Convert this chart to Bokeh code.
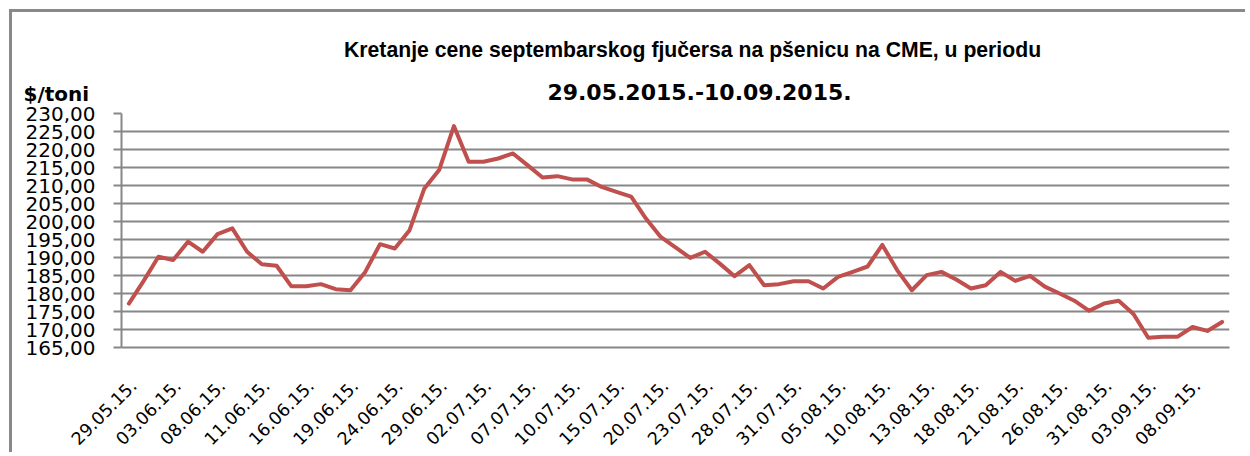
from bokeh.plotting import figure
from bokeh.models import Range1d, FixedTicker, Label
from bokeh.embed import file_html
from bokeh.resources import INLINE
from math import pi

dates = [
    "29.05.15.",
    "01.06.15.", "02.06.15.", "03.06.15.", "04.06.15.", "05.06.15.", "08.06.15.", "09.06.15.",
    "10.06.15.", "11.06.15.", "12.06.15.", "15.06.15.", "16.06.15.", "17.06.15.", "18.06.15.",
    "19.06.15.", "22.06.15.", "23.06.15.", "24.06.15.", "25.06.15.", "26.06.15.", "29.06.15.",
    "30.06.15.",
    "01.07.15.", "02.07.15.", "03.07.15.", "06.07.15.", "07.07.15.", "08.07.15.", "09.07.15.",
    "10.07.15.", "13.07.15.", "14.07.15.", "15.07.15.", "16.07.15.", "17.07.15.", "20.07.15.",
    "21.07.15.", "22.07.15.", "23.07.15.", "24.07.15.", "27.07.15.", "28.07.15.", "29.07.15.",
    "30.07.15.", "31.07.15.",
    "03.08.15.", "04.08.15.", "05.08.15.", "06.08.15.", "07.08.15.", "10.08.15.", "11.08.15.",
    "12.08.15.", "13.08.15.", "14.08.15.", "17.08.15.", "18.08.15.", "19.08.15.", "20.08.15.",
    "21.08.15.", "24.08.15.", "25.08.15.", "26.08.15.", "27.08.15.", "28.08.15.", "31.08.15.",
    "01.09.15.", "02.09.15.", "03.09.15.", "04.09.15.", "07.09.15.", "08.09.15.", "09.09.15.",
    "10.09.15.",
]

prices = [
    177.2, 183.5, 190.2, 189.3, 194.4, 191.6, 196.5, 198.1, 191.6, 188.1,
    187.7, 182.0, 182.0, 182.6, 181.2, 180.9, 186.0, 193.7, 192.5, 197.6,
    209.2, 214.3, 226.5, 216.6, 216.6, 217.5, 218.9, 215.6, 212.2, 212.6,
    211.7, 211.7, 209.6, 208.2, 206.9, 200.8, 195.7, 192.8, 189.9, 191.6,
    188.3, 184.8, 187.9, 182.3, 182.6, 183.4, 183.4, 181.4, 184.6, 186.0,
    187.5, 193.5, 186.5, 180.9, 185.1, 186.0, 183.9, 181.4, 182.3, 186.0,
    183.5, 184.9, 181.9, 180.0, 178.0, 175.2, 177.2, 178.0, 174.3, 167.7,
    168.0, 168.0, 170.7, 169.6, 172.1,
]

y_ticks = [165, 170, 175, 180, 185, 190, 195, 200, 205, 210, 215, 220, 225, 230]
label_step = 3

title_line1 = "Kretanje cene septembarskog fjučersa na  pšenicu na CME, u periodu"
title_line2 = "29.05.2015.-10.09.2015."
y_unit = "$/toni"

GRID = "#878787"
LINE = "#C0504D"

xs = list(range(len(dates)))
label_idx = xs[::label_step]
label_shift = 0.3
x_ticks = [i + label_shift for i in label_idx]

p = figure(
    width=1236, height=443,
    x_range=Range1d(-0.5, len(dates) - 0.5),
    y_range=Range1d(min(y_ticks), max(y_ticks)),
    output_backend="svg", toolbar_location=None, title_location=None,
    min_border_left=109, min_border_right=19,
    min_border_top=101, min_border_bottom=108,
    outline_line_color=None,
    styles={"margin-left": "9px", "margin-top": "9px",
            "border-top": "3px solid #898989", "border-left": "3px solid #898989"},
)

p.line(xs, prices, line_color=LINE, line_width=4, line_join="round", line_cap="round")

# y axis
p.yaxis.ticker = FixedTicker(ticks=y_ticks)
p.yaxis.major_label_overrides = {t: f"{t:.2f}".replace(".", ",") for t in y_ticks}
p.yaxis.major_label_text_font = "DejaVu Sans"
p.yaxis.major_label_text_font_size = "20px"
p.yaxis.major_label_text_color = "black"
p.yaxis.major_label_standoff = 18
p.yaxis.axis_line_color = GRID
p.yaxis.axis_line_width = 2
p.yaxis.major_tick_out = 8
p.yaxis.major_tick_in = 0
p.yaxis.major_tick_line_color = GRID
p.yaxis.major_tick_line_width = 2
p.yaxis.minor_tick_line_color = None

# x axis
p.xaxis.ticker = FixedTicker(ticks=x_ticks)
p.xaxis.major_label_overrides = {i + label_shift: dates[i] for i in label_idx}
p.xaxis.major_label_orientation = pi / 4
p.xaxis.major_label_text_font = "DejaVu Sans"
p.xaxis.major_label_text_font_size = "17.5px"
p.xaxis.major_label_text_color = "black"
p.xaxis.major_label_standoff = 35
p.xaxis.axis_line_color = GRID
p.xaxis.axis_line_width = 2
p.xaxis.major_tick_out = 0
p.xaxis.major_tick_in = 0
p.xaxis.minor_tick_line_color = None

p.xgrid.grid_line_color = None
p.ygrid.grid_line_color = GRID
p.ygrid.grid_line_width = 2

# title lines and unit label, placed in the top border panel (canvas pixels)
common = dict(x_units="canvas", y_units="canvas", text_font_style="bold",
              text_color="black", text_baseline="alphabetic")
p.add_layout(Label(x=680, y=34, text=title_line1, text_font="Liberation Sans",
                   text_font_size="21.2px", text_align="center", **common), "above")
p.add_layout(Label(x=684, y=76, text=title_line2, text_font="DejaVu Sans",
                   text_font_size="22px", text_align="center", **common), "above")
p.add_layout(Label(x=8, y=78, text=y_unit, text_font="DejaVu Sans",
                   text_font_size="20px", text_align="left", **common), "above")

open("out.html", "w").write(file_html(p, INLINE))
